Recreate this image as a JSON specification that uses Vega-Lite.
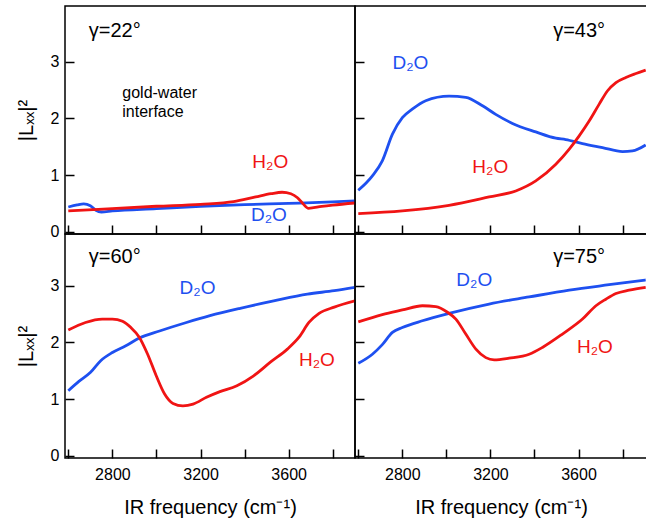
{
  "$schema": "https://vega.github.io/schema/vega-lite/v6.json",
  "padding": {"left": 15, "top": 5, "right": 0, "bottom": 0},
  "background": "white",
  "datasets": {
    "curves": [
      {"panel": "22", "series": "D2O", "x": 2600, "y": 0.436},
      {"panel": "22", "series": "D2O", "x": 2640, "y": 0.472},
      {"panel": "22", "series": "D2O", "x": 2670, "y": 0.49},
      {"panel": "22", "series": "D2O", "x": 2700, "y": 0.46},
      {"panel": "22", "series": "D2O", "x": 2725, "y": 0.378},
      {"panel": "22", "series": "D2O", "x": 2750, "y": 0.348},
      {"panel": "22", "series": "D2O", "x": 2800, "y": 0.366},
      {"panel": "22", "series": "D2O", "x": 3000, "y": 0.407},
      {"panel": "22", "series": "D2O", "x": 3200, "y": 0.449},
      {"panel": "22", "series": "D2O", "x": 3400, "y": 0.478},
      {"panel": "22", "series": "D2O", "x": 3600, "y": 0.5},
      {"panel": "22", "series": "D2O", "x": 3800, "y": 0.525},
      {"panel": "22", "series": "D2O", "x": 3901, "y": 0.543},
      {"panel": "22", "series": "H2O", "x": 2600, "y": 0.366},
      {"panel": "22", "series": "H2O", "x": 2736, "y": 0.395},
      {"panel": "22", "series": "H2O", "x": 3000, "y": 0.449},
      {"panel": "22", "series": "H2O", "x": 3200, "y": 0.484},
      {"panel": "22", "series": "H2O", "x": 3350, "y": 0.53},
      {"panel": "22", "series": "H2O", "x": 3450, "y": 0.613},
      {"panel": "22", "series": "H2O", "x": 3520, "y": 0.67},
      {"panel": "22", "series": "H2O", "x": 3570, "y": 0.696},
      {"panel": "22", "series": "H2O", "x": 3610, "y": 0.67},
      {"panel": "22", "series": "H2O", "x": 3640, "y": 0.6},
      {"panel": "22", "series": "H2O", "x": 3665, "y": 0.495},
      {"panel": "22", "series": "H2O", "x": 3690, "y": 0.413},
      {"panel": "22", "series": "H2O", "x": 3750, "y": 0.447},
      {"panel": "22", "series": "H2O", "x": 3800, "y": 0.47},
      {"panel": "22", "series": "H2O", "x": 3901, "y": 0.507},
      {"panel": "43", "series": "D2O", "x": 2600, "y": 0.73},
      {"panel": "43", "series": "D2O", "x": 2664, "y": 0.984},
      {"panel": "43", "series": "D2O", "x": 2709, "y": 1.249},
      {"panel": "43", "series": "D2O", "x": 2755, "y": 1.72},
      {"panel": "43", "series": "D2O", "x": 2800, "y": 2.01},
      {"panel": "43", "series": "D2O", "x": 2845, "y": 2.16},
      {"panel": "43", "series": "D2O", "x": 2906, "y": 2.31},
      {"panel": "43", "series": "D2O", "x": 3012, "y": 2.39},
      {"panel": "43", "series": "D2O", "x": 3088, "y": 2.37},
      {"panel": "43", "series": "D2O", "x": 3164, "y": 2.22},
      {"panel": "43", "series": "D2O", "x": 3224, "y": 2.07},
      {"panel": "43", "series": "D2O", "x": 3300, "y": 1.91},
      {"panel": "43", "series": "D2O", "x": 3406, "y": 1.76},
      {"panel": "43", "series": "D2O", "x": 3497, "y": 1.65},
      {"panel": "43", "series": "D2O", "x": 3542, "y": 1.625},
      {"panel": "43", "series": "D2O", "x": 3618, "y": 1.555},
      {"panel": "43", "series": "D2O", "x": 3709, "y": 1.484},
      {"panel": "43", "series": "D2O", "x": 3800, "y": 1.413},
      {"panel": "43", "series": "D2O", "x": 3845, "y": 1.425},
      {"panel": "43", "series": "D2O", "x": 3905, "y": 1.53},
      {"panel": "43", "series": "H2O", "x": 2600, "y": 0.318},
      {"panel": "43", "series": "H2O", "x": 2800, "y": 0.366},
      {"panel": "43", "series": "H2O", "x": 3012, "y": 0.466},
      {"panel": "43", "series": "H2O", "x": 3194, "y": 0.613},
      {"panel": "43", "series": "H2O", "x": 3315, "y": 0.719},
      {"panel": "43", "series": "H2O", "x": 3406, "y": 0.896},
      {"panel": "43", "series": "H2O", "x": 3497, "y": 1.19},
      {"panel": "43", "series": "H2O", "x": 3558, "y": 1.456},
      {"panel": "43", "series": "H2O", "x": 3603, "y": 1.69},
      {"panel": "43", "series": "H2O", "x": 3649, "y": 1.956},
      {"panel": "43", "series": "H2O", "x": 3694, "y": 2.25},
      {"panel": "43", "series": "H2O", "x": 3732, "y": 2.486},
      {"panel": "43", "series": "H2O", "x": 3770, "y": 2.63},
      {"panel": "43", "series": "H2O", "x": 3815, "y": 2.72},
      {"panel": "43", "series": "H2O", "x": 3861, "y": 2.79},
      {"panel": "43", "series": "H2O", "x": 3905, "y": 2.85},
      {"panel": "60", "series": "D2O", "x": 2600, "y": 1.146},
      {"panel": "60", "series": "D2O", "x": 2648, "y": 1.31},
      {"panel": "60", "series": "D2O", "x": 2701, "y": 1.47},
      {"panel": "60", "series": "D2O", "x": 2747, "y": 1.675},
      {"panel": "60", "series": "D2O", "x": 2800, "y": 1.82},
      {"panel": "60", "series": "D2O", "x": 2861, "y": 1.94},
      {"panel": "60", "series": "D2O", "x": 2922, "y": 2.075},
      {"panel": "60", "series": "D2O", "x": 3014, "y": 2.2},
      {"panel": "60", "series": "D2O", "x": 3136, "y": 2.35},
      {"panel": "60", "series": "D2O", "x": 3243, "y": 2.47},
      {"panel": "60", "series": "D2O", "x": 3380, "y": 2.6},
      {"panel": "60", "series": "D2O", "x": 3532, "y": 2.73},
      {"panel": "60", "series": "D2O", "x": 3685, "y": 2.85},
      {"panel": "60", "series": "D2O", "x": 3807, "y": 2.91},
      {"panel": "60", "series": "D2O", "x": 3901, "y": 2.97},
      {"panel": "60", "series": "H2O", "x": 2600, "y": 2.216},
      {"panel": "60", "series": "H2O", "x": 2678, "y": 2.35},
      {"panel": "60", "series": "H2O", "x": 2754, "y": 2.41},
      {"panel": "60", "series": "H2O", "x": 2800, "y": 2.41},
      {"panel": "60", "series": "H2O", "x": 2846, "y": 2.37},
      {"panel": "60", "series": "H2O", "x": 2884, "y": 2.26},
      {"panel": "60", "series": "H2O", "x": 2922, "y": 2.09},
      {"panel": "60", "series": "H2O", "x": 2960, "y": 1.79},
      {"panel": "60", "series": "H2O", "x": 2999, "y": 1.41},
      {"panel": "60", "series": "H2O", "x": 3037, "y": 1.088},
      {"panel": "60", "series": "H2O", "x": 3075, "y": 0.923},
      {"panel": "60", "series": "H2O", "x": 3120, "y": 0.88},
      {"panel": "60", "series": "H2O", "x": 3166, "y": 0.91},
      {"panel": "60", "series": "H2O", "x": 3227, "y": 1.03},
      {"panel": "60", "series": "H2O", "x": 3288, "y": 1.13},
      {"panel": "60", "series": "H2O", "x": 3365, "y": 1.235},
      {"panel": "60", "series": "H2O", "x": 3441, "y": 1.41},
      {"panel": "60", "series": "H2O", "x": 3517, "y": 1.65},
      {"panel": "60", "series": "H2O", "x": 3594, "y": 1.88},
      {"panel": "60", "series": "H2O", "x": 3647, "y": 2.09},
      {"panel": "60", "series": "H2O", "x": 3692, "y": 2.35},
      {"panel": "60", "series": "H2O", "x": 3738, "y": 2.51},
      {"panel": "60", "series": "H2O", "x": 3807, "y": 2.62},
      {"panel": "60", "series": "H2O", "x": 3901, "y": 2.73},
      {"panel": "75", "series": "D2O", "x": 2600, "y": 1.63},
      {"panel": "75", "series": "D2O", "x": 2664, "y": 1.79},
      {"panel": "75", "series": "D2O", "x": 2709, "y": 1.96},
      {"panel": "75", "series": "D2O", "x": 2755, "y": 2.175},
      {"panel": "75", "series": "D2O", "x": 2800, "y": 2.26},
      {"panel": "75", "series": "D2O", "x": 2891, "y": 2.38},
      {"panel": "75", "series": "D2O", "x": 3012, "y": 2.51},
      {"panel": "75", "series": "D2O", "x": 3194, "y": 2.675},
      {"panel": "75", "series": "D2O", "x": 3376, "y": 2.8},
      {"panel": "75", "series": "D2O", "x": 3558, "y": 2.92},
      {"panel": "75", "series": "D2O", "x": 3739, "y": 3.016},
      {"panel": "75", "series": "D2O", "x": 3905, "y": 3.1},
      {"panel": "75", "series": "H2O", "x": 2600, "y": 2.36},
      {"panel": "75", "series": "H2O", "x": 2709, "y": 2.49},
      {"panel": "75", "series": "H2O", "x": 2800, "y": 2.57},
      {"panel": "75", "series": "H2O", "x": 2891, "y": 2.645},
      {"panel": "75", "series": "H2O", "x": 2952, "y": 2.63},
      {"panel": "75", "series": "H2O", "x": 3005, "y": 2.53},
      {"panel": "75", "series": "H2O", "x": 3043, "y": 2.41},
      {"panel": "75", "series": "H2O", "x": 3088, "y": 2.146},
      {"panel": "75", "series": "H2O", "x": 3134, "y": 1.88},
      {"panel": "75", "series": "H2O", "x": 3179, "y": 1.73},
      {"panel": "75", "series": "H2O", "x": 3217, "y": 1.69},
      {"panel": "75", "series": "H2O", "x": 3285, "y": 1.72},
      {"panel": "75", "series": "H2O", "x": 3376, "y": 1.79},
      {"panel": "75", "series": "H2O", "x": 3436, "y": 1.91},
      {"panel": "75", "series": "H2O", "x": 3527, "y": 2.146},
      {"panel": "75", "series": "H2O", "x": 3618, "y": 2.41},
      {"panel": "75", "series": "H2O", "x": 3679, "y": 2.645},
      {"panel": "75", "series": "H2O", "x": 3724, "y": 2.76},
      {"panel": "75", "series": "H2O", "x": 3770, "y": 2.86},
      {"panel": "75", "series": "H2O", "x": 3830, "y": 2.92},
      {"panel": "75", "series": "H2O", "x": 3905, "y": 2.97}
    ],
    "labels": [
      {"panel": "22", "kind": "angle", "series": "", "x": 2693, "y": 3.43, "text": "γ=22°"},
      {"panel": "43", "kind": "angle", "series": "", "x": 3485, "y": 3.43, "text": "γ=43°"},
      {"panel": "60", "kind": "angle", "series": "", "x": 2693, "y": 3.39, "text": "γ=60°"},
      {"panel": "75", "kind": "angle", "series": "", "x": 3485, "y": 3.39, "text": "γ=75°"},
      {"panel": "22", "kind": "note", "series": "", "x": 2845, "y": 2.357, "text": "gold-water"},
      {"panel": "22", "kind": "note", "series": "", "x": 2845, "y": 2.03, "text": "interface"},
      {"panel": "22", "kind": "solvent", "series": "H2O", "x": 3435, "y": 1.13, "text": "H₂O"},
      {"panel": "22", "kind": "solvent", "series": "D2O", "x": 3429, "y": 0.19, "text": "D₂O"},
      {"panel": "43", "kind": "solvent", "series": "D2O", "x": 2755, "y": 2.875, "text": "D₂O"},
      {"panel": "43", "kind": "solvent", "series": "H2O", "x": 3118, "y": 1.04, "text": "H₂O"},
      {"panel": "60", "kind": "solvent", "series": "D2O", "x": 3105, "y": 2.85, "text": "D₂O"},
      {"panel": "60", "kind": "solvent", "series": "H2O", "x": 3647, "y": 1.587, "text": "H₂O"},
      {"panel": "75", "kind": "solvent", "series": "D2O", "x": 3045, "y": 3.0, "text": "D₂O"},
      {"panel": "75", "kind": "solvent", "series": "H2O", "x": 3593, "y": 1.82, "text": "H₂O"}
    ]
  },
  "columns": 2,
  "spacing": 0,
  "bounds": "flush",
  "concat": [
    {
      "width": 290, "height": 228,
      "encoding": {
        "x": {"field": "x", "type": "quantitative", "scale": {"domain": [2585, 3901], "nice": false, "zero": false},
              "axis": {"values": [2600, 2800, 3000, 3200, 3400, 3600, 3800], "labels": false, "title": null}},
        "y": {"field": "y", "type": "quantitative", "scale": {"domain": [-0.04, 3.98], "nice": false, "zero": false},
              "axis": {"values": [0, 1, 2, 3], "labelPadding": 15, "title": "|Lₓₓ|²", "titlePadding": 14}},
        "color": {"field": "series", "type": "nominal", "scale": {"domain": ["H2O", "D2O"], "range": ["#f01414", "#1e50f0"]}, "legend": null}
      },
      "layer": [
        {"data": {"name": "curves"}, "transform": [{"filter": "datum.panel == '22'"}], "mark": {"type": "line", "strokeWidth": 2.8, "interpolate": "monotone", "clip": true}},
        {"data": {"name": "labels"}, "transform": [{"filter": "datum.panel == '22' && datum.kind == 'solvent'"}], "mark": {"type": "text", "align": "left", "baseline": "alphabetic", "fontSize": 19, "font": "Liberation Sans"}, "encoding": {"text": {"field": "text"}}},
        {"data": {"name": "labels"}, "transform": [{"filter": "datum.panel == '22' && datum.kind == 'angle'"}], "mark": {"type": "text", "align": "left", "baseline": "alphabetic", "fontSize": 20, "font": "Liberation Sans"}, "encoding": {"text": {"field": "text"}, "color": {"value": "#000"}}},
        {"data": {"name": "labels"}, "transform": [{"filter": "datum.panel == '22' && datum.kind == 'note'"}], "mark": {"type": "text", "align": "left", "baseline": "alphabetic", "fontSize": 16, "font": "Liberation Sans"}, "encoding": {"text": {"field": "text"}, "color": {"value": "#000"}}}
      ]
    },
    {
      "width": 292, "height": 228,
      "encoding": {
        "x": {"field": "x", "type": "quantitative", "scale": {"domain": [2585, 3911], "nice": false, "zero": false},
              "axis": {"values": [2600, 2800, 3000, 3200, 3400, 3600, 3800], "labels": false, "title": null}},
        "y": {"field": "y", "type": "quantitative", "scale": {"domain": [-0.04, 3.98], "nice": false, "zero": false},
              "axis": {"values": [0, 1, 2, 3], "labels": false, "title": null}},
        "color": {"field": "series", "type": "nominal", "scale": {"domain": ["H2O", "D2O"], "range": ["#f01414", "#1e50f0"]}, "legend": null}
      },
      "layer": [
        {"data": {"name": "curves"}, "transform": [{"filter": "datum.panel == '43'"}], "mark": {"type": "line", "strokeWidth": 2.8, "interpolate": "monotone", "clip": true}},
        {"data": {"name": "labels"}, "transform": [{"filter": "datum.panel == '43' && datum.kind == 'solvent'"}], "mark": {"type": "text", "align": "left", "baseline": "alphabetic", "fontSize": 19, "font": "Liberation Sans"}, "encoding": {"text": {"field": "text"}}},
        {"data": {"name": "labels"}, "transform": [{"filter": "datum.panel == '43' && datum.kind == 'angle'"}], "mark": {"type": "text", "align": "left", "baseline": "alphabetic", "fontSize": 20, "font": "Liberation Sans"}, "encoding": {"text": {"field": "text"}, "color": {"value": "#000"}}}
      ]
    },
    {
      "width": 290, "height": 224,
      "encoding": {
        "x": {"field": "x", "type": "quantitative", "scale": {"domain": [2585, 3901], "nice": false, "zero": false},
              "axis": {"values": [2600, 2800, 3000, 3200, 3400, 3600, 3800], "format": "d", "labelExpr": "datum.value % 400 == 0 ? datum.label : ''", "labelPadding": 17, "title": "IR frequency (cm⁻¹)", "titlePadding": 15}},
        "y": {"field": "y", "type": "quantitative", "scale": {"domain": [-0.04, 3.91], "nice": false, "zero": false},
              "axis": {"values": [0, 1, 2, 3], "labelPadding": 15, "title": "|Lₓₓ|²", "titlePadding": 14}},
        "color": {"field": "series", "type": "nominal", "scale": {"domain": ["H2O", "D2O"], "range": ["#f01414", "#1e50f0"]}, "legend": null}
      },
      "layer": [
        {"data": {"name": "curves"}, "transform": [{"filter": "datum.panel == '60'"}], "mark": {"type": "line", "strokeWidth": 2.8, "interpolate": "monotone", "clip": true}},
        {"data": {"name": "labels"}, "transform": [{"filter": "datum.panel == '60' && datum.kind == 'solvent'"}], "mark": {"type": "text", "align": "left", "baseline": "alphabetic", "fontSize": 19, "font": "Liberation Sans"}, "encoding": {"text": {"field": "text"}}},
        {"data": {"name": "labels"}, "transform": [{"filter": "datum.panel == '60' && datum.kind == 'angle'"}], "mark": {"type": "text", "align": "left", "baseline": "alphabetic", "fontSize": 20, "font": "Liberation Sans"}, "encoding": {"text": {"field": "text"}, "color": {"value": "#000"}}}
      ]
    },
    {
      "width": 292, "height": 224,
      "encoding": {
        "x": {"field": "x", "type": "quantitative", "scale": {"domain": [2585, 3911], "nice": false, "zero": false},
              "axis": {"values": [2600, 2800, 3000, 3200, 3400, 3600, 3800], "format": "d", "labelExpr": "datum.value % 400 == 0 ? datum.label : ''", "labelPadding": 17, "title": "IR frequency (cm⁻¹)", "titlePadding": 15}},
        "y": {"field": "y", "type": "quantitative", "scale": {"domain": [-0.04, 3.91], "nice": false, "zero": false},
              "axis": {"values": [0, 1, 2, 3], "labels": false, "title": null}},
        "color": {"field": "series", "type": "nominal", "scale": {"domain": ["H2O", "D2O"], "range": ["#f01414", "#1e50f0"]}, "legend": null}
      },
      "layer": [
        {"data": {"name": "curves"}, "transform": [{"filter": "datum.panel == '75'"}], "mark": {"type": "line", "strokeWidth": 2.8, "interpolate": "monotone", "clip": true}},
        {"data": {"name": "labels"}, "transform": [{"filter": "datum.panel == '75' && datum.kind == 'solvent'"}], "mark": {"type": "text", "align": "left", "baseline": "alphabetic", "fontSize": 19, "font": "Liberation Sans"}, "encoding": {"text": {"field": "text"}}},
        {"data": {"name": "labels"}, "transform": [{"filter": "datum.panel == '75' && datum.kind == 'angle'"}], "mark": {"type": "text", "align": "left", "baseline": "alphabetic", "fontSize": 20, "font": "Liberation Sans"}, "encoding": {"text": {"field": "text"}, "color": {"value": "#000"}}}
      ]
    }
  ],
  "config": {
    "view": {"stroke": "#000", "strokeWidth": 1.5},
    "axis": {"grid": false, "domain": false, "tickSize": -9, "tickColor": "#000", "tickWidth": 1.5,
             "labelFont": "Liberation Sans", "labelFontSize": 16, "labelColor": "#000",
             "titleFont": "Liberation Sans", "titleFontSize": 20, "titleFontWeight": "normal", "titleColor": "#000"}
  }
}
